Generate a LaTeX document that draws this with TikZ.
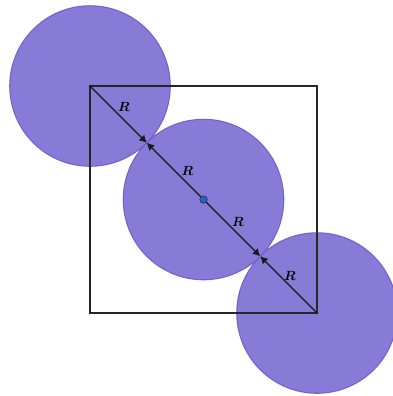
\documentclass[tikz,border=0pt]{standalone}
\usepackage{amsmath,bm}
\usetikzlibrary{arrows.meta}
\definecolor{discfill}{RGB}{106,90,205}
\definecolor{dotblue}{RGB}{25,105,205}
\begin{document}
\begin{tikzpicture}[x=3cm, y=3cm,
        disc/.style={draw=discfill, fill=discfill, fill opacity=0.8, draw opacity=0.9, line width=0.8pt},
        radius line/.style={line width=0.9pt, black!90, -{Latex[length=5.5pt, width=6pt]}},
        rlabel/.style={font=\normalsize}]
        \useasboundingbox (-0.793,-0.731) rectangle (2.661,2.758);

        \coordinate (A) at (0,2);
        \coordinate (O) at (1,1);
        \coordinate (C) at (2,0);
        \coordinate (T1) at (0.5,1.5);
        \coordinate (T2) at (1.5,0.5);

        \filldraw[disc] (A) circle (0.7071) (O) circle (0.7071) (C) circle (0.7071);

        \draw[line width=0.9pt, black!85] (0,0) rectangle (2,2);

        \draw[radius line] (A) -- (T1);
        \draw[radius line] (O) -- (T1);
        \draw[radius line] (O) -- (T2);
        \draw[radius line] (C) -- (T2);

        \filldraw[fill=dotblue, draw=black!80, line width=0.5pt] (O) circle (2.8pt);

        \node[rlabel] (r1) at (0.300,1.815) {$\bm{R}$};
        \node[rlabel] (r2) at (0.859,1.256) {$\bm{R}$};
        \node[rlabel] (r3) at (1.304,0.802) {$\bm{R}$};
        \node[rlabel] (r4) at (1.762,0.326) {$\bm{R}$};
    \end{tikzpicture}
\end{document}
